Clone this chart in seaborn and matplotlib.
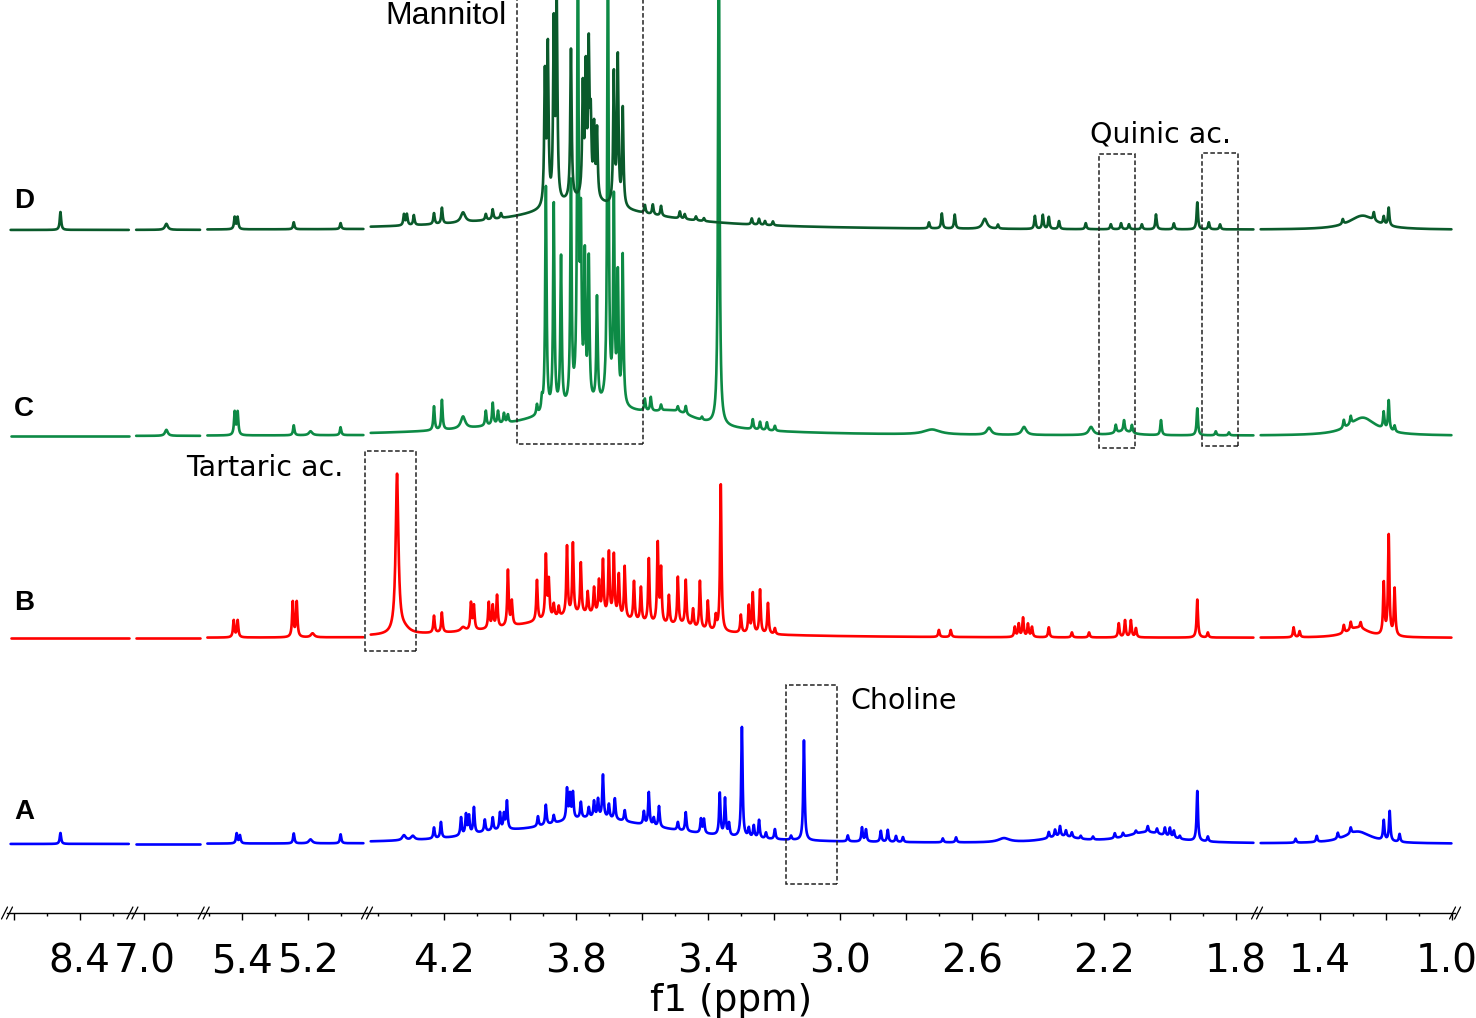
import numpy as np
import pandas as pd
import matplotlib
matplotlib.use("Agg")
import matplotlib.pyplot as plt
import seaborn as sns
from matplotlib.lines import Line2D
from matplotlib.patches import Rectangle
from matplotlib.ticker import FixedLocator, FixedFormatter
from matplotlib.transforms import ScaledTranslation

sns.set_style("white")
plt.rcParams["font.family"] = ["DejaVu Sans"]
plt.rcParams["text.color"] = "black"
plt.rcParams["xtick.color"] = "black"
plt.rcParams["axes.labelcolor"] = "black"

# ppm range of the five axis pieces (left edge, right edge)
seg_left = [8.62, 7.036, 5.515, 4.433, 1.59]
seg_right = [8.24, 6.82, 5.02, 1.736, 0.99]
seg_major = [[8.6, 8.4], [7.0], [5.4, 5.2],
             [4.2, 4.0, 3.8, 3.6, 3.4, 3.2, 3.0, 2.8, 2.6, 2.4, 2.2, 2.0, 1.8],
             [1.4, 1.2, 1.0]]
seg_minor = [[8.5, 8.3], [6.9], [5.5, 5.3, 5.1],
             [4.4, 4.3, 4.1, 3.9, 3.7, 3.5, 3.3, 3.1, 2.9, 2.7, 2.5, 2.3, 2.1, 1.9],
             [1.5, 1.3, 1.1]]
tick_labels = ["8.4", "7.0", "5.4", "5.2", "4.2", "3.8", "3.4", "3.0",
               "2.6", "2.2", "1.8", "1.4", "1.0"]

samples = ["A", "B", "C", "D"]
offsets = {"A": 69, "B": 275, "C": 477, "D": 683}
colors = {"A": "#0000ff", "B": "#ff0000", "C": "#0d8a45", "D": "#0a5a2b"}

# sharp signals: (ppm, height)
A_lines = [(8.458, 11), (5.415, 10), (5.405, 8), (5.242, 10), (5.100, 9),
           (4.230, 11), (4.209, 16), (4.148, 18), (4.133, 20), (4.124, 18),
           (4.109, 26), (4.076, 12), (4.052, 13), (4.030, 17), (4.018, 15),
           (4.009, 28), (3.915, 10), (3.891, 20), (3.867, 8), (3.827, 31),
           (3.818, 24), (3.809, 26), (3.785, 16), (3.761, 10), (3.745, 16),
           (3.733, 18), (3.718, 43), (3.700, 14), (3.682, 21), (3.652, 11),
           (3.594, 13), (3.579, 33), (3.564, 8), (3.548, 21), (3.491, 8),
           (3.467, 19), (3.421, 14), (3.412, 14), (3.364, 42), (3.348, 37),
           (3.336, 12), (3.297, 110), (3.276, 9), (3.261, 12), (3.245, 18),
           (3.224, 6), (3.197, 10), (3.148, 4), (3.109, 100),
           (2.976, 6), (2.933, 14), (2.921, 12), (2.876, 11), (2.855, 12),
           (2.830, 6), (2.809, 5), (2.688, 4), (2.648, 5),
           (2.367, 6), (2.348, 7), (2.333, 10), (2.315, 6), (2.297, 5),
           (2.270, 3), (2.233, 3), (2.167, 5), (2.142, 4), (2.103, 3),
           (2.067, 6), (2.039, 5), (2.015, 8), (2.000, 9), (1.988, 7),
           (1.970, 3), (1.917, 50), (1.885, 5),
           (1.473, 4), (1.409, 6), (1.345, 6), (1.306, 6), (1.206, 20),
           (1.188, 30), (1.158, 8)]
B_lines = [(5.424, 17), (5.412, 17), (5.245, 35), (5.233, 35),
           (4.230, 17), (4.206, 20), (4.118, 27), (4.109, 24), (4.064, 26),
           (4.052, 22), (4.039, 32), (4.006, 56), (3.994, 24), (3.918, 41),
           (3.891, 63), (3.882, 37), (3.867, 13), (3.852, 10), (3.827, 69),
           (3.809, 71), (3.785, 51), (3.764, 22), (3.745, 26), (3.730, 33),
           (3.718, 54), (3.700, 63), (3.685, 61), (3.670, 42), (3.652, 52),
           (3.624, 39), (3.603, 34), (3.579, 64), (3.552, 80), (3.542, 54),
           (3.518, 29), (3.491, 47), (3.467, 45), (3.445, 18), (3.424, 48),
           (3.400, 29), (3.376, 14), (3.361, 147), (3.300, 18), (3.276, 27),
           (3.264, 40), (3.242, 44), (3.218, 31), (3.197, 6),
           (2.700, 7), (2.664, 7), (2.470, 10), (2.458, 13), (2.445, 19),
           (2.430, 13), (2.418, 10), (2.367, 10), (2.297, 5), (2.245, 5),
           (2.155, 14), (2.136, 17), (2.118, 17), (2.103, 9), (1.917, 38),
           (1.885, 5),
           (1.479, 10), (1.461, 6), (1.327, 8), (1.306, 8), (1.276, 6),
           (1.206, 52), (1.191, 100), (1.173, 47)]
C_lines = [(5.421, 23), (5.412, 23), (5.242, 10), (5.100, 8),
           (4.230, 24), (4.206, 30), (4.073, 15), (4.052, 22), (4.036, 13),
           (4.018, 10), (4.006, 8), (3.918, 10), (3.903, 12),
           (3.891, 225), (3.867, 205), (3.845, 150), (3.815, 220), (3.794, 480),
           (3.785, 165), (3.773, 140), (3.761, 140), (3.736, 105), (3.703, 470),
           (3.685, 200), (3.673, 125), (3.658, 150),
           (3.591, 12), (3.573, 14), (3.542, 6), (3.491, 5), (3.467, 8),
           (3.418, 3), (3.367, 520), (3.264, 10), (3.242, 8), (3.221, 8),
           (3.197, 5), (2.164, 8), (2.139, 11), (2.115, 8), (2.027, 15),
           (1.917, 27), (1.861, 4), (1.821, 3),
           (1.327, 8), (1.306, 8), (1.206, 17), (1.191, 30), (1.173, 6)]
D_lines = [(8.458, 18), (5.421, 12), (5.412, 12), (5.242, 7), (5.100, 6),
           (4.321, 11), (4.312, 11), (4.291, 10), (4.230, 11), (4.206, 16),
           (4.073, 6), (4.052, 10), (4.027, 5),
           (3.894, 130), (3.885, 155), (3.867, 175), (3.858, 193), (3.815, 150),
           (3.779, 108), (3.770, 123), (3.761, 143), (3.755, 70), (3.745, 68),
           (3.736, 68), (3.685, 130), (3.673, 147), (3.658, 98),
           (3.591, 8), (3.567, 10), (3.542, 10), (3.485, 7), (3.470, 5),
           (3.436, 4), (3.412, 3), (3.267, 6), (3.245, 6), (3.227, 4),
           (3.203, 4), (2.730, 6), (2.691, 15), (2.652, 14), (2.521, 4),
           (2.409, 13), (2.385, 14), (2.367, 12), (2.336, 8), (2.255, 6),
           (2.179, 5), (2.148, 6), (2.124, 5), (2.085, 5), (2.042, 15),
           (1.988, 6), (1.917, 27), (1.882, 7), (1.848, 5),
           (1.330, 5), (1.236, 8), (1.206, 8), (1.191, 18)]

# wider signals and baseline humps: (ppm, height, half width)
A_humps = [(4.321, 5, 0.006), (4.294, 4, 0.006), (5.191, 4, 0.006),
           (3.76, 22, 0.2), (3.55, 6, 0.25), (4.05, 5, 0.1),
           (2.503, 4, 0.02), (2.33, 6, 0.06), (2.07, 11, 0.08), (1.285, 12, 0.05)]
B_humps = [(4.342, 159, 0.005), (4.32, 5, 0.02), (4.142, 4, 0.008),
           (5.185, 4, 0.006), (3.77, 23, 0.23), (3.48, 4, 0.04), (1.285, 10, 0.04)]
C_humps = [(6.933, 6, 0.005), (5.191, 4, 0.006), (4.142, 12, 0.008),
           (3.75, 28, 0.23), (3.5, 12, 0.08), (2.721, 5, 0.03), (2.548, 7, 0.008),
           (2.442, 8, 0.008), (2.239, 8, 0.008), (2.14, 4, 0.03), (1.27, 18, 0.05)]
D_humps = [(6.933, 6, 0.005), (4.142, 10, 0.008), (3.75, 18, 0.3),
           (3.79, 12, 0.1), (2.561, 10, 0.008), (1.270, 14, 0.05)]

lines = {"A": A_lines, "B": B_lines, "C": C_lines, "D": D_lines}
humps = {"A": A_humps, "B": B_humps, "C": C_humps, "D": D_humps}
LW = 0.0025  # half width of sharp lines, ppm


def spectrum(ppm, sharp, wide, base):
    y = np.full(ppm.shape, float(base))
    for c, h in sharp:
        y += h * LW ** 2 / ((ppm - c) ** 2 + LW ** 2)
    for c, h, w in wide:
        y += h * w ** 2 / ((ppm - c) ** 2 + w ** 2)
    return y


W, H = 1476, 1018
fig = plt.figure(figsize=(W / 100, H / 100), dpi=100)
px_per_ppm = 330
x0 = 7
axis_y = 913

edges = [x0]
axes = []
for i in range(5):
    wpx = (seg_left[i] - seg_right[i]) * px_per_ppm
    ax = fig.add_axes([edges[-1] / W, (H - axis_y) / H, wpx / W, axis_y / H])
    edges.append(edges[-1] + wpx)
    axes.append(ax)

for i, ax in enumerate(axes):
    grid = np.arange(seg_right[i] + 0.011, seg_left[i] - 0.011, 0.0004)
    frames = []
    for s in samples:
        frames.append(pd.DataFrame({"ppm": grid,
                                    "intensity": spectrum(grid, lines[s], humps[s], offsets[s]),
                                    "sample": s}))
    df = pd.concat(frames, ignore_index=True)
    sns.lineplot(data=df, x="ppm", y="intensity", hue="sample", hue_order=samples,
                 palette=colors, estimator=None, sort=False, legend=False,
                 linewidth=1.9, ax=ax)
    ax.set_xlim(seg_left[i], seg_right[i])
    ax.set_ylim(0, axis_y)
    ax.set_xlabel("")
    ax.set_ylabel("")
    ax.set_yticks([])
    ax.patch.set_alpha(0)
    for side in ["top", "left", "right"]:
        ax.spines[side].set_visible(False)
    ax.spines["bottom"].set_linewidth(1.0)
    ax.spines["bottom"].set_color("black")
    ax.xaxis.set_major_locator(FixedLocator(seg_major[i]))
    ax.xaxis.set_major_formatter(FixedFormatter(
        [f"{t:.1f}" if f"{t:.1f}" in tick_labels else "" for t in seg_major[i]]))
    ax.xaxis.set_minor_locator(FixedLocator(seg_minor[i]))
    ax.tick_params(axis="x", which="major", bottom=True, length=5, width=1.0,
                   direction="out", labelsize=28, pad=16, color="black",
                   labelcolor="black")
    ax.tick_params(axis="x", which="minor", bottom=True, length=2.5, width=1.0,
                   direction="out", color="black")

# keep the last label "1.0" inside the picture, as in the reference
last_tick = axes[4].xaxis.get_major_ticks()[-1]
last_tick.label1.set_transform(last_tick.label1.get_transform()
                               + ScaledTranslation(-0.05, 0, fig.dpi_scale_trans))

# dashed boxes around the marked signals
main = axes[3]
boxes = [(3.597, 469, 0.382, 470),   # Mannitol
         (2.106, 465, 0.109, 294),   # Quinic ac.
         (1.794, 467, 0.109, 293),   # Quinic ac.
         (4.285, 262, 0.155, 200),   # Tartaric ac.
         (3.009, 29, 0.155, 199)]    # Choline
for bx, by, bw, bh in boxes:
    main.add_patch(Rectangle((bx, by), bw, bh, fill=False, ec="#222222", lw=1.1,
                             ls=(0, (3, 1.6)), clip_on=False, zorder=5))

# axis break marks
for bxp in edges:
    for dx in (-2.5, 2.5):
        fig.add_artist(Line2D([(bxp + dx - 3) / W, (bxp + dx + 3) / W],
                              [(H - axis_y - 6) / H, (H - axis_y + 6) / H],
                              transform=fig.transFigure, color="black", lw=0.9))

# labels
for s, yb in zip(["D", "C", "B", "A"], [208, 416, 610, 819]):
    fig.text(14 / W, 1 - yb / H, s, fontsize=20, fontweight="bold", color="black",
             family="Liberation Sans", va="baseline", ha="left")
fig.text(507 / W, 1 - 24 / H, "Mannitol", fontsize=23, family="Liberation Sans",
         color="black", ha="right", va="baseline")
fig.text(1090 / W, 1 - 142 / H, "Quinic ac.", fontsize=20.5, color="black",
         ha="left", va="baseline")
fig.text(186 / W, 1 - 476 / H, "Tartaric ac.", fontsize=20.5, color="black",
         ha="left", va="baseline")
fig.text(850 / W, 1 - 709 / H, "Choline", fontsize=20.5, color="black",
         ha="left", va="baseline")
fig.text(731 / W, 1 - 1001 / H, "f1 (ppm)", fontsize=27, color="black",
         ha="center", va="center")

fig.savefig("out.png", dpi=100)
